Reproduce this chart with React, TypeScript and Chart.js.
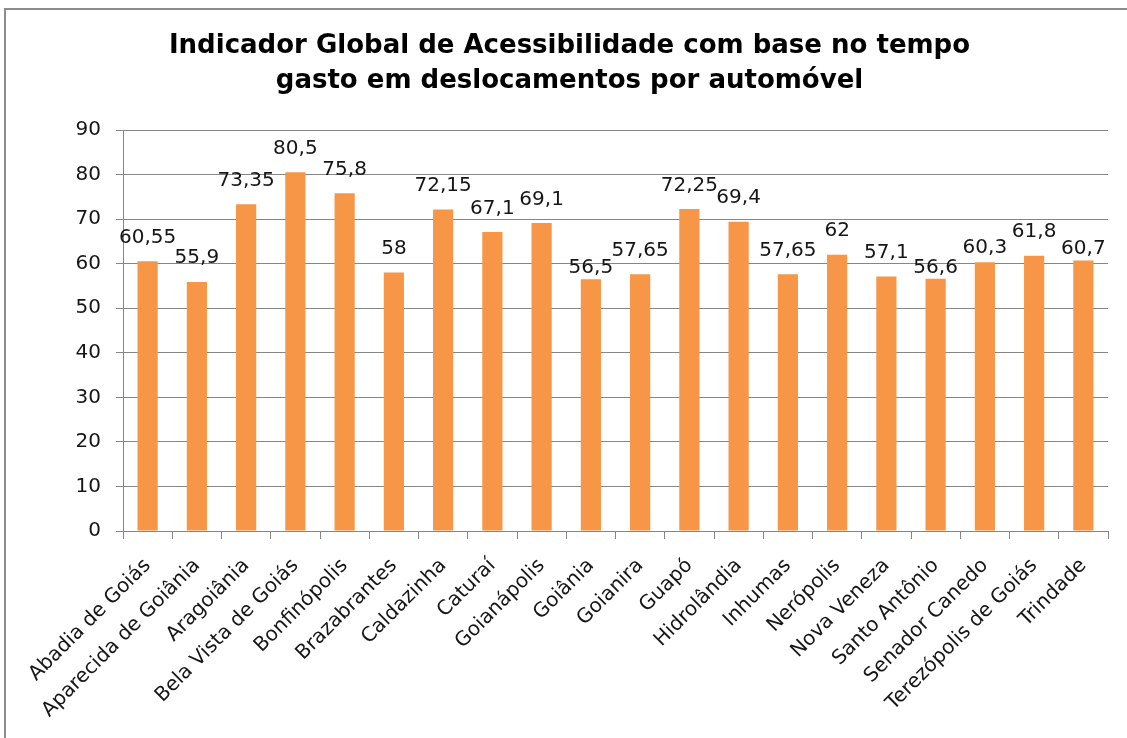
import { useEffect, useRef } from "react";
import { Chart, registerables } from "chart.js";

Chart.register(...registerables);

// Municípios (eixo das categorias)
const municipios = [
  "Abadia de Goiás",
  "Aparecida de Goiânia",
  "Aragoiânia",
  "Bela Vista de Goiás",
  "Bonfinópolis",
  "Brazabrantes",
  "Caldazinha",
  "Caturaí",
  "Goianápolis",
  "Goiânia",
  "Goianira",
  "Guapó",
  "Hidrolândia",
  "Inhumas",
  "Nerópolis",
  "Nova Veneza",
  "Santo Antônio",
  "Senador Canedo",
  "Terezópolis de Goiás",
  "Trindade",
];

// Indicador global de acessibilidade (automóvel)
const indicador = [
  60.55, 55.9, 73.35, 80.5, 75.8, 58, 72.15, 67.1, 69.1, 56.5,
  57.65, 72.25, 69.4, 57.65, 62, 57.1, 56.6, 60.3, 61.8, 60.7,
];

// Escala do eixo de valores
const Y_MIN = 0;
const Y_MAX = 90;
const Y_STEP = 10;

const TITULO = [
  "Indicador Global de Acessibilidade com base no tempo",
  "gasto em deslocamentos por automóvel",
];

// Ajuste vertical (px, para baixo) de alguns rótulos de valor
const ajusteRotulo = [
  0, 0, 0, 0, 0, 0, 0, 0, 0, 12.5,
  0, 0, 0, 0, 0, 0, 12.5, 9.5, 0, 12,
];

const FONT = "DejaVu Sans";
const TEXT = "#161616";
const LINE = "#868686";
const BAR = "#F79646";

const valueLabels = {
  id: "valueLabels",
  afterDatasetsDraw(chart: any) {
    const ctx = chart.ctx as CanvasRenderingContext2D;
    const meta = chart.getDatasetMeta(0);
    ctx.save();
    ctx.font = `20px "${FONT}"`;
    ctx.fillStyle = TEXT;
    ctx.textAlign = "center";
    ctx.textBaseline = "alphabetic";
    meta.data.forEach((bar: any, i: number) => {
      const texto = String(indicador[i]).replace(".", ",");
      ctx.fillText(texto, bar.x, bar.y - 18.5 + ajusteRotulo[i]);
    });
    ctx.restore();
  },
};

export default function App() {
  const canvasRef = useRef<HTMLCanvasElement | null>(null);

  useEffect(() => {
    const canvas = canvasRef.current;
    if (!canvas) return;
    const chart = new Chart(canvas, {
      type: "bar",
      data: {
        labels: municipios,
        datasets: [
          {
            data: indicador,
            backgroundColor: BAR,
            borderWidth: 0,
            barPercentage: 0.41,
            categoryPercentage: 1,
          },
        ],
      },
      options: {
        responsive: false,
        animation: false,
        layout: { padding: { left: 31, right: 19, top: 0, bottom: 0 } },
        plugins: {
          legend: { display: false },
          tooltip: { enabled: false },
          title: {
            display: true,
            text: TITULO,
            color: "#000",
            font: { family: FONT, size: 26, weight: "bold", lineHeight: 35 / 26 },
            padding: { top: 29, bottom: 31 },
          },
        },
        scales: {
          x: {
            grid: {
              display: true,
              drawOnChartArea: false,
              drawTicks: true,
              tickLength: 8,
              color: LINE,
              offset: true,
            },
            border: { display: true, color: LINE, width: 1 },
            ticks: {
              autoSkip: false,
              minRotation: 45,
              maxRotation: 45,
              padding: 15,
              labelOffset: 0,
              color: TEXT,
              font: { family: FONT, size: 20 },
            },
            afterFit(scale: any) {
              scale.height = 207;
            },
          },
          y: {
            min: Y_MIN,
            max: Y_MAX,
            ticks: {
              stepSize: Y_STEP,
              padding: 15,
              color: TEXT,
              font: { family: FONT, size: 20 },
            },
            grid: {
              color: LINE,
              tickLength: 7,
              drawTicks: true,
            },
            border: { display: true, color: LINE, width: 1 },
            afterFit(scale: any) {
              scale.width = 92;
            },
          },
        },
      },
      plugins: [valueLabels],
    });
    return () => chart.destroy();
  }, []);

  return (
    <div
      style={{
        position: "fixed",
        left: 0,
        top: 0,
        width: 1127,
        height: 738,
        overflow: "hidden",
        background: "#fff",
      }}
    >
      <div
        style={{
          position: "absolute",
          left: 4,
          top: 8,
          width: 1200,
          height: 800,
          border: "2px solid #8c8c8c",
        }}
      />
      <canvas
        ref={canvasRef}
        width={1127}
        height={738}
        style={{ position: "absolute", left: 0, top: 0, display: "block" }}
      />
    </div>
  );
}
